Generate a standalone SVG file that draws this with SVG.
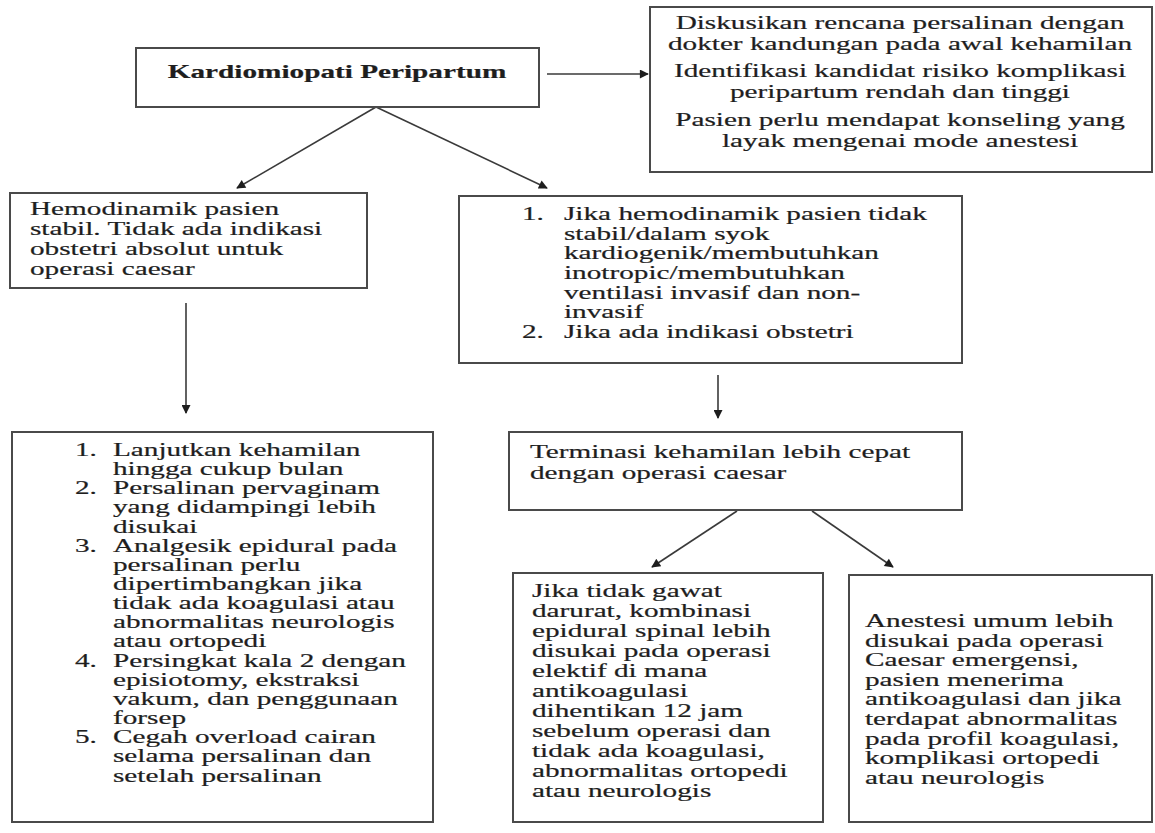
<svg xmlns="http://www.w3.org/2000/svg" width="1155" height="833" viewBox="0 0 1155 833">
<defs>
<style>
.box{fill:#fff;stroke:#4a4a4a;stroke-width:2}
.t{font-family:"Liberation Serif","Times New Roman",serif;font-size:18.5px;fill:#1e1e1e;stroke:#1e1e1e;stroke-width:0.2}
.b{font-weight:bold}
.m{text-anchor:middle}
.c{stroke:#3a3a3a;stroke-width:1.6;fill:none}
</style>
<marker id="ah" viewBox="0 0 10 10" refX="9" refY="5" markerWidth="11" markerHeight="9" markerUnits="userSpaceOnUse" orient="auto">
<path d="M0,0 L10,5 L0,10 z" fill="#1e1e1e"/>
</marker>
</defs>
<rect width="1155" height="833" fill="#fff"/>

<g id="connectors">
<line class="c" x1="376" y1="107" x2="237" y2="188" marker-end="url(#ah)"/>
<line class="c" x1="376" y1="107" x2="547" y2="188" marker-end="url(#ah)"/>
<line class="c" x1="547" y1="74" x2="648" y2="74" marker-end="url(#ah)"/>
<line class="c" x1="186" y1="303" x2="186" y2="413" marker-end="url(#ah)"/>
<line class="c" x1="718" y1="375" x2="718" y2="418" marker-end="url(#ah)"/>
<line class="c" x1="737" y1="511" x2="652" y2="567" marker-end="url(#ah)"/>
<line class="c" x1="812" y1="511" x2="893" y2="567" marker-end="url(#ah)"/>
</g>

<g id="kardiomiopati">
<rect class="box" x="136" y="48" width="403" height="59"/>
<g transform="translate(337,0) scale(1.58,1)"><text class="t b m" x="0" y="78">Kardiomiopati Peripartum</text></g>
</g>

<g id="diskusi">
<rect class="box" x="650" y="7" width="502" height="165"/>
<g transform="translate(900,0) scale(1.58,1)">
<text class="t m" x="0" y="29">Diskusikan rencana persalinan dengan</text>
<text class="t m" x="0" y="50">dokter kandungan pada awal kehamilan</text>
<text class="t m" x="0" y="77">Identifikasi kandidat risiko komplikasi</text>
<text class="t m" x="0" y="98">peripartum rendah dan tinggi</text>
<text class="t m" x="0" y="126">Pasien perlu mendapat konseling yang</text>
<text class="t m" x="0" y="147">layak mengenai mode anestesi</text>
</g>
</g>

<g id="stabil">
<rect class="box" x="10" y="193" width="357" height="95"/>
<g transform="translate(30,0) scale(1.58,1)">
<text class="t" x="0" y="215">Hemodinamik pasien</text>
<text class="t" x="0" y="235">stabil. Tidak ada indikasi</text>
<text class="t" x="0" y="255">obstetri absolut untuk</text>
<text class="t" x="0" y="275">operasi caesar</text>
</g>
</g>

<g id="tidakstabil">
<rect class="box" x="459" y="196" width="503" height="167"/>
<g transform="translate(522,0) scale(1.58,1)">
<text class="t" x="0" y="220">1.</text>
<text class="t" x="0" y="338">2.</text>
</g>
<g transform="translate(564,0) scale(1.58,1)">
<text class="t" x="0" y="220">Jika hemodinamik pasien tidak</text>
<text class="t" x="0" y="239.7">stabil/dalam syok</text>
<text class="t" x="0" y="259.3">kardiogenik/membutuhkan</text>
<text class="t" x="0" y="279">inotropic/membutuhkan</text>
<text class="t" x="0" y="298.7">ventilasi invasif dan non-</text>
<text class="t" x="0" y="318.3">invasif</text>
<text class="t" x="0" y="338">Jika ada indikasi obstetri</text>
</g>
</g>

<g id="lanjutkan">
<rect class="box" x="12" y="432" width="421" height="390"/>
<g transform="translate(75,0) scale(1.58,1)">
<text class="t" x="0" y="456">1.</text>
<text class="t" x="0" y="494.3">2.</text>
<text class="t" x="0" y="551.8">3.</text>
<text class="t" x="0" y="666.7">4.</text>
<text class="t" x="0" y="743.3">5.</text>
</g>
<g transform="translate(113,0) scale(1.58,1)">
<text class="t" x="0" y="456">Lanjutkan kehamilan</text>
<text class="t" x="0" y="475.2">hingga cukup bulan</text>
<text class="t" x="0" y="494.3">Persalinan pervaginam</text>
<text class="t" x="0" y="513.5">yang didampingi lebih</text>
<text class="t" x="0" y="532.6">disukai</text>
<text class="t" x="0" y="551.8">Analgesik epidural pada</text>
<text class="t" x="0" y="570.9">persalinan perlu</text>
<text class="t" x="0" y="590.1">dipertimbangkan jika</text>
<text class="t" x="0" y="609.2">tidak ada koagulasi atau</text>
<text class="t" x="0" y="628.4">abnormalitas neurologis</text>
<text class="t" x="0" y="647.5">atau ortopedi</text>
<text class="t" x="0" y="666.7">Persingkat kala 2 dengan</text>
<text class="t" x="0" y="685.8">episiotomy, ekstraksi</text>
<text class="t" x="0" y="705">vakum, dan penggunaan</text>
<text class="t" x="0" y="724.1">forsep</text>
<text class="t" x="0" y="743.3">Cegah overload cairan</text>
<text class="t" x="0" y="762.4">selama persalinan dan</text>
<text class="t" x="0" y="781.6">setelah persalinan</text>
</g>
</g>

<g id="terminasi">
<rect class="box" x="509" y="432" width="453" height="78"/>
<g transform="translate(530,0) scale(1.58,1)">
<text class="t" x="0" y="458">Terminasi kehamilan lebih cepat</text>
<text class="t" x="0" y="479">dengan operasi caesar</text>
</g>
</g>

<g id="epidural">
<rect class="box" x="513" y="573" width="310" height="249"/>
<g transform="translate(532,0) scale(1.58,1)">
<text class="t" x="0" y="597">Jika tidak gawat</text>
<text class="t" x="0" y="617">darurat, kombinasi</text>
<text class="t" x="0" y="637">epidural spinal lebih</text>
<text class="t" x="0" y="657">disukai pada operasi</text>
<text class="t" x="0" y="677">elektif di mana</text>
<text class="t" x="0" y="697">antikoagulasi</text>
<text class="t" x="0" y="717">dihentikan 12 jam</text>
<text class="t" x="0" y="737">sebelum operasi dan</text>
<text class="t" x="0" y="757">tidak ada koagulasi,</text>
<text class="t" x="0" y="777">abnormalitas ortopedi</text>
<text class="t" x="0" y="797">atau neurologis</text>
</g>
</g>

<g id="anestesi">
<rect class="box" x="849" y="575" width="303" height="247"/>
<g transform="translate(865,0) scale(1.58,1)">
<text class="t" x="0" y="627">Anestesi umum lebih</text>
<text class="t" x="0" y="646.6">disukai pada operasi</text>
<text class="t" x="0" y="666.2">Caesar emergensi,</text>
<text class="t" x="0" y="685.8">pasien menerima</text>
<text class="t" x="0" y="705.4">antikoagulasi dan jika</text>
<text class="t" x="0" y="725">terdapat abnormalitas</text>
<text class="t" x="0" y="744.6">pada profil koagulasi,</text>
<text class="t" x="0" y="764.2">komplikasi ortopedi</text>
<text class="t" x="0" y="783.8">atau neurologis</text>
</g>
</g>
</svg>
